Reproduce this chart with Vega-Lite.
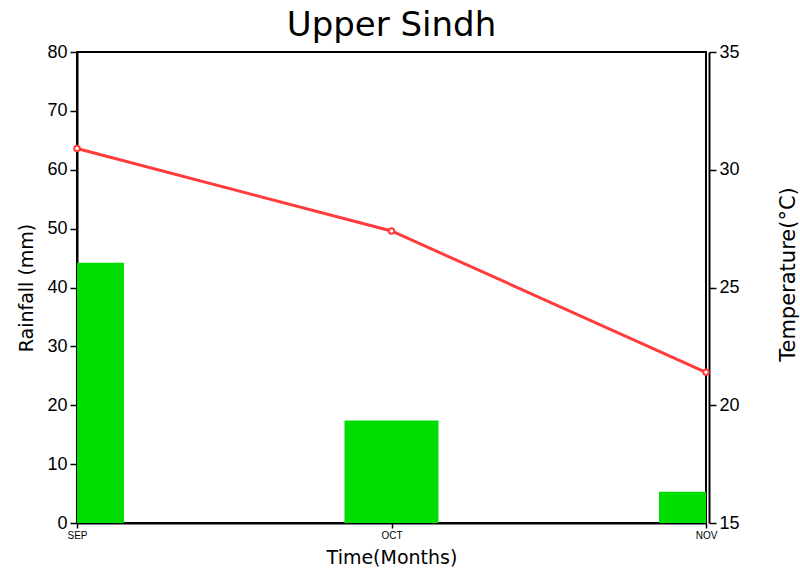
{
  "$schema": "https://vega.github.io/schema/vega-lite/v6.json",
  "autosize": "none",
  "width": 629,
  "height": 471,
  "padding": {"left": 77, "top": 52, "right": 94, "bottom": 52},
  "background": "white",
  "title": {"text": "Upper Sindh", "fontSize": 34, "font": "DejaVu Sans", "fontWeight": "normal", "color": "black", "anchor": "middle", "offset": 0},
  "config": {
    "view": {"stroke": "black", "strokeWidth": 2},
    "axis": {"labelFont": "Liberation Sans", "titleFont": "DejaVu Sans", "labelColor": "black", "titleColor": "black", "domainColor": "black", "tickColor": "black", "grid": false, "titleFontWeight": "normal", "domainWidth": 2, "tickWidth": 1.5}
  },
  "data": {"values": [
    {"month": "SEP", "rain": 44.2, "temp": 30.9},
    {"month": "OCT", "rain": 17.4, "temp": 27.4},
    {"month": "NOV", "rain": 5.3, "temp": 21.4}
  ]},
  "encoding": {
    "x": {"field": "month", "type": "ordinal", "sort": null, "scale": {"type": "point", "padding": 0},
      "axis": {"title": "Time(Months)", "labelAngle": 0, "labelFontSize": 10, "titleFontSize": 19, "tickSize": 5, "labelPadding": 2, "titlePadding": 8}}
  },
  "layer": [
    {
      "mark": {"type": "bar", "color": "#00dd00", "size": 94, "clip": true},
      "encoding": {
        "y": {"field": "rain", "type": "quantitative", "scale": {"domain": [0, 80], "nice": false},
          "axis": {"title": "Rainfall (mm)", "values": [0, 10, 20, 30, 40, 50, 60, 70, 80], "labelFontSize": 18, "titleFontSize": 19, "tickSize": 7, "labelPadding": 3, "titlePadding": 10}}
      }
    },
    {
      "mark": {"type": "line", "color": "#ff3b3b", "strokeWidth": 3, "clip": false, "point": {"filled": false, "fill": "white", "color": "#ff3b3b", "size": 30, "strokeWidth": 2}},
      "encoding": {
        "y": {"field": "temp", "type": "quantitative", "scale": {"domain": [15, 35], "nice": false},
          "axis": {"orient": "right", "title": "Temperature(°C)", "titleAngle": 270, "titleX": 79, "titleY": 222, "titleAlign": "center", "titleBaseline": "middle", "values": [15, 20, 25, 30, 35], "labelFontSize": 18, "titleFontSize": 21, "tickSize": 7, "offset": 3, "labelPadding": 3}}
      }
    }
  ],
  "resolve": {"scale": {"y": "independent"}}
}
